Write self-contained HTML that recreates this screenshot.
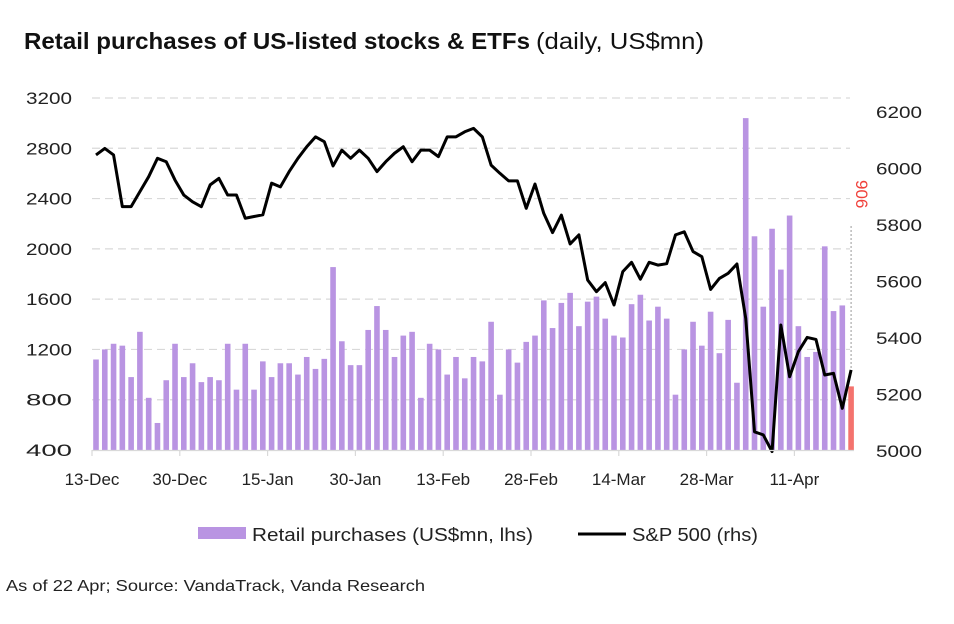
<!DOCTYPE html>
<html><head><meta charset="utf-8"><style>
body{margin:0;background:#fff;width:954px;height:619px;overflow:hidden;font-family:"Liberation Sans",Arial,sans-serif}
</style></head><body>
<svg id="chart" width="954" height="619" xmlns="http://www.w3.org/2000/svg" font-family="Liberation Sans, Arial, sans-serif">
<text x="24" y="49" font-size="23" fill="#111"><tspan font-weight="bold" textLength="506" lengthAdjust="spacingAndGlyphs">Retail purchases of US-listed stocks &amp; ETFs</tspan><tspan x="536" textLength="168" lengthAdjust="spacingAndGlyphs">(daily, US$mn)</tspan></text>
<g id="grid"></g><g id="bars"></g><g id="line"></g><g id="axes"></g>
<g>
<rect x="198" y="527" width="48" height="12" fill="#b994e2"/>
<text x="252" y="541" font-size="18" fill="#222" textLength="281" lengthAdjust="spacingAndGlyphs">Retail purchases (US$mn, lhs)</text>
<line x1="578" y1="534" x2="626" y2="534" stroke="#000" stroke-width="3"/>
<text x="632" y="541" font-size="18" fill="#222" textLength="126" lengthAdjust="spacingAndGlyphs">S&amp;P 500 (rhs)</text>
</g>
<text x="6" y="591" font-size="16" fill="#222" textLength="419" lengthAdjust="spacingAndGlyphs">As of 22 Apr; Source: VandaTrack, Vanda Research</text>
</svg>
<script>
const retail=[1120,1200,1245,1230,980,1340,815,615,955,1245,980,1090,940,980,955,1245,880,1245,880,1105,980,1090,1090,1000,1140,1045,1125,1855,1265,1075,1075,1355,1545,1355,1140,1310,1340,815,1245,1200,1000,1140,970,1140,1105,1420,840,1200,1095,1260,1310,1590,1370,1570,1650,1385,1580,1620,1445,1310,1295,1560,1635,1430,1540,1445,840,1200,1420,1230,1500,1170,1435,935,3040,2100,1540,2160,1835,2265,1385,1140,1180,2020,1505,1550,906];
const sp500=[6048,6071,6048,5865,5865,5918,5971,6036,6024,5959,5906,5882,5865,5942,5965,5906,5906,5824,5830,5836,5948,5935,5989,6036,6077,6112,6095,6009,6065,6036,6065,6036,5989,6024,6054,6077,6024,6065,6065,6042,6112,6112,6130,6142,6112,6012,5983,5956,5956,5859,5945,5841,5773,5835,5733,5765,5605,5564,5596,5517,5635,5668,5608,5668,5658,5663,5765,5776,5706,5688,5572,5611,5629,5662,5470,5068,5057,4998,5446,5263,5352,5402,5395,5269,5275,5151,5287];
const leftTicks=[400,800,1200,1600,2000,2400,2800,3200];
const rightTicks=[5000,5200,5400,5600,5800,6000,6200];
const xLabels=["13-Dec","30-Dec","15-Jan","30-Jan","13-Feb","28-Feb","14-Mar","28-Mar","11-Apr"];
const labelEvery=10;
const NS="http://www.w3.org/2000/svg";
const X0=96,DX=8.78;
const xs=i=>X0+i*DX;
const yL=v=>450-(v-400)*(352/2800);
const yR=v=>451-(v-5000)*(339/1200);
function mk(t,a,p){const e=document.createElementNS(NS,t);for(const k in a)e.setAttribute(k,a[k]);p.appendChild(e);return e;}
const grid=document.getElementById('grid'),bars=document.getElementById('bars'),line=document.getElementById('line'),axes=document.getElementById('axes');
leftTicks.forEach(v=>{
 if(v>400){const g=mk('line',{x1:92,x2:850,y1:yL(v),y2:yL(v),stroke:'#d9d9d9','stroke-width':1.2,'stroke-dasharray':'8,5'},grid);
 
 }
 const t=mk('text',{x:72,y:yL(v)+6,'font-size':17,fill:'#222','text-anchor':'end',textLength:46,lengthAdjust:'spacingAndGlyphs'},axes);t.textContent=v;
 
 
});
rightTicks.forEach(v=>{
 const t=mk('text',{x:876,y:yR(v)+6,'font-size':17,fill:'#222',textLength:46,lengthAdjust:'spacingAndGlyphs'},axes);t.textContent=v;
 
 
});
retail.forEach((v,i)=>{
 const last=i===retail.length-1;
 const r=mk('rect',{x:xs(i)-2.8,y:yL(v),width:5.6,height:450-yL(v),fill:last?'#f4736e':'#b994e2'},bars);
 
 
});
const ax=mk('line',{x1:92,x2:854,y1:450.5,y2:450.5,stroke:'#d9d9d9','stroke-width':1.2},axes);


xLabels.forEach((l,k)=>{
 const x=xs(k*labelEvery)-4;
 const tk=mk('line',{x1:x,x2:x,y1:450,y2:456,stroke:'#d9d9d9','stroke-width':1.2},axes);
 
 
 const t=mk('text',{x:x,y:485,'font-size':17,fill:'#222','text-anchor':'middle'},axes);t.textContent=l;
 
 
});
const p=mk('polyline',{points:sp500.map((v,i)=>xs(i)+','+yR(v)).join(' '),fill:'none',stroke:'#000','stroke-width':3,'stroke-linejoin':'round'},line);


const li=retail.length-1;
const dl=mk('line',{x1:xs(li),x2:xs(li),y1:226,y2:yR(sp500[li]),stroke:'#999','stroke-width':1,'stroke-dasharray':'2,2'},line);


const lt=mk('text',{x:0,y:0,'font-size':17,fill:'#f0403a',transform:'translate('+(xs(li)+5)+',180) rotate(90)'},line);
lt.textContent=retail[li];


</script>
</body></html>
